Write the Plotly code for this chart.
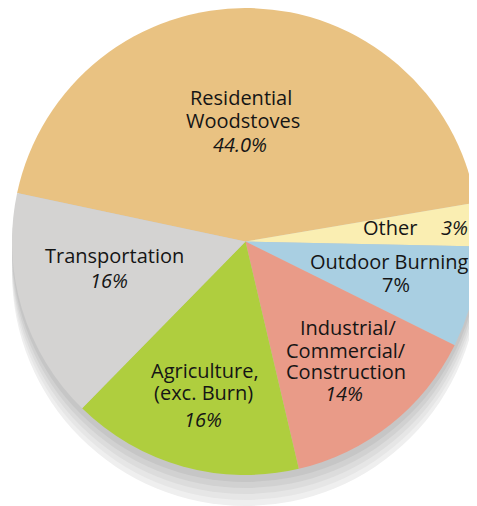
import plotly.graph_objects as go

# ---- data ----
categories = ["Residential Woodstoves", "Other", "Outdoor Burning",
              "Industrial/Commercial/Construction", "Agriculture, (exc. Burn)",
              "Transportation"]
values = [44.0, 3, 7, 14, 16, 16]
colors = ["#E9C282", "#FAEEB2", "#A9CFE2", "#E99B88", "#AFCE3E", "#D4D3D2"]

W, H = 477, 506
OFF = 8  # page body margin
CX, CY, R = 245.5, 241.5, 233.5

def px(x):
    return (x - OFF) / W

def py(y):
    return 1 - (y - OFF) / H

fig = go.Figure()
fig.add_trace(go.Pie(
    labels=categories, values=values, sort=False, direction="clockwise",
    rotation=-78, marker=dict(colors=colors, line=dict(width=0)),
    textinfo="none", hoverinfo="label+percent", showlegend=False,
    domain=dict(x=[px(CX - R), min(1, px(CX + R))], y=[py(CY + R), min(1, py(CY - R))]),
))

# stacked shadow under the pie
shadow = [(31, "#efefef"), (25, "#e6e6e6"), (19, "#dcdcdc"), (13, "#d1d1d1"), (7, "#c6c6c6")]
shapes = []
for d, c in shadow:
    shapes.append(dict(type="circle", xref="paper", yref="paper", layer="below",
                       x0=px(CX - R), x1=px(CX + R), y0=py(CY + R + d), y1=py(CY - R + d),
                       fillcolor=c, line=dict(width=0)))

# label lines: (text, x, y)
label_lines = [
    ("Residential", 241, 97), ("Woodstoves", 243, 119), ("<i>44.0%</i>", 240, 143),
    ("Other", 390, 227), ("<i>3%</i>", 454, 227),
    ("Outdoor Burning", 389, 260), ("7%", 396, 283),
    ("Industrial/", 348, 326), ("Commercial/", 346, 349), ("Construction", 346, 370),
    ("<i>14%</i>", 344, 392),
    ("Agriculture,", 205, 369), ("(exc. Burn)", 203, 391), ("<i>16%</i>", 203, 418),
    ("Transportation", 114, 254), ("<i>16%</i>", 109, 279),
]
annotations = []
for t, x, y in label_lines:
    annotations.append(dict(text=t, x=px(x), y=py(y + 1), xref="paper", yref="paper",
                            xanchor="center", yanchor="middle", showarrow=False,
                            font=dict(family="Open Sans", size=20, color="#151515")))

fig.update_layout(width=W, height=H, margin=dict(l=0, r=0, t=0, b=0),
                  paper_bgcolor="white", plot_bgcolor="white",
                  shapes=shapes, annotations=annotations)
fig.write_html("out.html")
